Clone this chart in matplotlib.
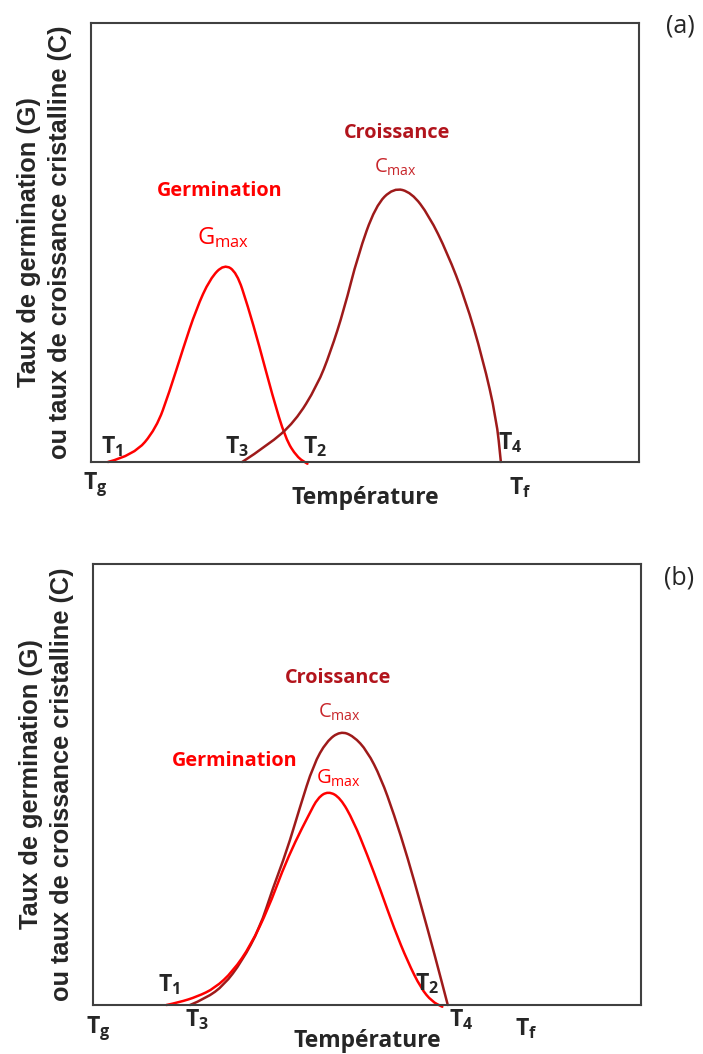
import matplotlib
matplotlib.use("Agg")
import matplotlib.pyplot as plt
from matplotlib.path import Path
from matplotlib.patches import PathPatch

plt.rcParams['mathtext.fontset'] = 'custom'
plt.rcParams['mathtext.rm'] = 'Open Sans'
plt.rcParams['mathtext.bf'] = 'Open Sans:bold'
plt.rcParams['mathtext.it'] = 'Open Sans'

# ---- data (normalised temperature, normalised rate) ----
a_germ_T = [0.031, 0.078, 0.119, 0.143, 0.168, 0.192, 0.217, 0.243, 0.266, 0.286, 0.307, 0.331, 0.355, 0.376, 0.395]
a_germ_G = [0.000, 0.015, 0.076, 0.159, 0.258, 0.348, 0.417, 0.451, 0.432, 0.356, 0.265, 0.152, 0.053, 0.011, -0.004]
a_crois_T = [0.276, 0.323, 0.372, 0.413, 0.437, 0.462, 0.487, 0.519, 0.552, 0.585, 0.617, 0.650, 0.683, 0.715, 0.740, 0.748]
a_crois_C = [0.000, 0.038, 0.091, 0.174, 0.250, 0.348, 0.470, 0.583, 0.625, 0.614, 0.561, 0.477, 0.371, 0.235, 0.098, 0.000]

b_germ_T = [0.134, 0.157, 0.190, 0.222, 0.255, 0.288, 0.320, 0.345, 0.369, 0.394, 0.410, 0.429, 0.451, 0.475, 0.500, 0.525, 0.549, 0.574, 0.598, 0.618, 0.637]
b_germ_G = [0.000, 0.006, 0.019, 0.038, 0.076, 0.136, 0.220, 0.303, 0.371, 0.432, 0.470, 0.485, 0.470, 0.417, 0.341, 0.258, 0.174, 0.098, 0.038, 0.008, -0.004]
b_crois_T = [0.177, 0.206, 0.239, 0.271, 0.304, 0.328, 0.353, 0.377, 0.402, 0.426, 0.451, 0.475, 0.500, 0.525, 0.549, 0.574, 0.598, 0.623, 0.647]
b_crois_C = [0.000, 0.015, 0.045, 0.098, 0.174, 0.265, 0.348, 0.447, 0.545, 0.598, 0.621, 0.610, 0.576, 0.515, 0.432, 0.333, 0.227, 0.114, 0.000]

ylabel_lines = ['Taux de germination (G)', 'ou taux de croissance cristalline (C)']
xlabel = 'Température'

RED = '#ff0000'
DARK = '#9e1a1a'
CROIS_TXT = '#b2141c'
CMAX_TXT = '#c8262b'
TXT = '#262626'


def smooth_curve(ax, xs, ys, color, lw=1.8):
    pts = list(zip(xs, ys))
    verts = [pts[0]]
    codes = [Path.MOVETO]
    for i in range(1, len(pts) - 1):
        mid = ((pts[i][0] + pts[i + 1][0]) / 2, (pts[i][1] + pts[i + 1][1]) / 2)
        verts += [pts[i], mid]
        codes += [Path.CURVE3, Path.CURVE3]
    verts.append(pts[-1])
    codes.append(Path.LINETO)
    patch = PathPatch(Path(verts, codes), facecolor='none', edgecolor=color,
                      lw=lw, clip_on=False, capstyle='round')
    ax.add_patch(patch)


def setup(ax):
    ax.set_xlim(0, 1)
    ax.set_ylim(0, 1)
    ax.set_xticks([])
    ax.set_yticks([])
    for s in ax.spines.values():
        s.set_color('#404040')
        s.set_linewidth(1.5)
    for i, line in enumerate(ylabel_lines):
        ax.text([-0.113, -0.057][i], 0.5, line, rotation=90, transform=ax.transAxes,
                ha='center', va='center', fontsize=18.3, fontweight='bold',
                family='Liberation Sans', color=TXT)
    ax.text(0.5, -0.082, xlabel, transform=ax.transAxes, ha='center', va='center',
            fontsize=16.5, fontweight='bold', family='Open Sans', color=TXT)


def tlabel(ax, x, y, sub):
    ax.text(x, y, r'T$_{\mathbf{' + sub + '}}$', ha='center', va='center',
            fontsize=16.5, fontweight='bold', family='Open Sans', color=TXT,
            clip_on=False)


fig = plt.figure(figsize=(7.03, 10.54), dpi=100)

# ---- panel (a) ----
axa = fig.add_axes([0.1294, 0.5617, 0.7795, 0.4165])
setup(axa)
smooth_curve(axa, a_germ_T, a_germ_G, RED)
smooth_curve(axa, a_crois_T, a_crois_C, DARK)
axa.text(0.235, 0.617, 'Germination', ha='center', va='center', fontsize=14.3,
         fontweight='bold', family='Open Sans', color=RED)
axa.text(0.241, 0.511, r'G$_{\mathrm{max}}$', ha='center', va='center', fontsize=17,
         family='Open Sans', color=RED)
axa.text(0.558, 0.750, 'Croissance', ha='center', va='center', fontsize=14.3,
         fontweight='bold', family='Open Sans', color=CROIS_TXT)
axa.text(0.556, 0.670, r'C$_{\mathrm{max}}$', ha='center', va='center', fontsize=14.5,
         family='Open Sans', color=CMAX_TXT)
tlabel(axa, 0.038, 0.034, '1')
tlabel(axa, 0.266, 0.034, '3')
tlabel(axa, 0.409, 0.034, '2')
tlabel(axa, 0.765, 0.043, '4')
tlabel(axa, 0.007, -0.052, 'g')
tlabel(axa, 0.783, -0.059, 'f')
fig.text(0.968, 0.975, '(a)', ha='center', va='center', fontsize=18,
         family='Open Sans', color=TXT)

# ---- panel (b) ----
axb = fig.add_axes([0.1323, 0.0465, 0.780, 0.4184])
setup(axb)
smooth_curve(axb, b_crois_T, b_crois_C, DARK)
smooth_curve(axb, b_germ_T, b_germ_G, RED)
axb.text(0.447, 0.742, 'Croissance', ha='center', va='center', fontsize=14.3,
         fontweight='bold', family='Open Sans', color=CROIS_TXT)
axb.text(0.449, 0.663, r'C$_{\mathrm{max}}$', ha='center', va='center', fontsize=14.5,
         family='Open Sans', color=CMAX_TXT)
axb.text(0.259, 0.553, 'Germination', ha='center', va='center', fontsize=14.3,
         fontweight='bold', family='Open Sans', color=RED)
axb.text(0.447, 0.515, r'G$_{\mathrm{max}}$', ha='center', va='center', fontsize=14.5,
         family='Open Sans', color=RED)
tlabel(axb, 0.139, 0.045, '1')
tlabel(axb, 0.190, -0.034, '3')
tlabel(axb, 0.610, 0.049, '2')
tlabel(axb, 0.672, -0.034, '4')
tlabel(axb, 0.010, -0.053, 'g')
tlabel(axb, 0.790, -0.053, 'f')
fig.text(0.966, 0.452, '(b)', ha='center', va='center', fontsize=18,
         family='Open Sans', color=TXT)

fig.savefig('out.png', dpi=100)
